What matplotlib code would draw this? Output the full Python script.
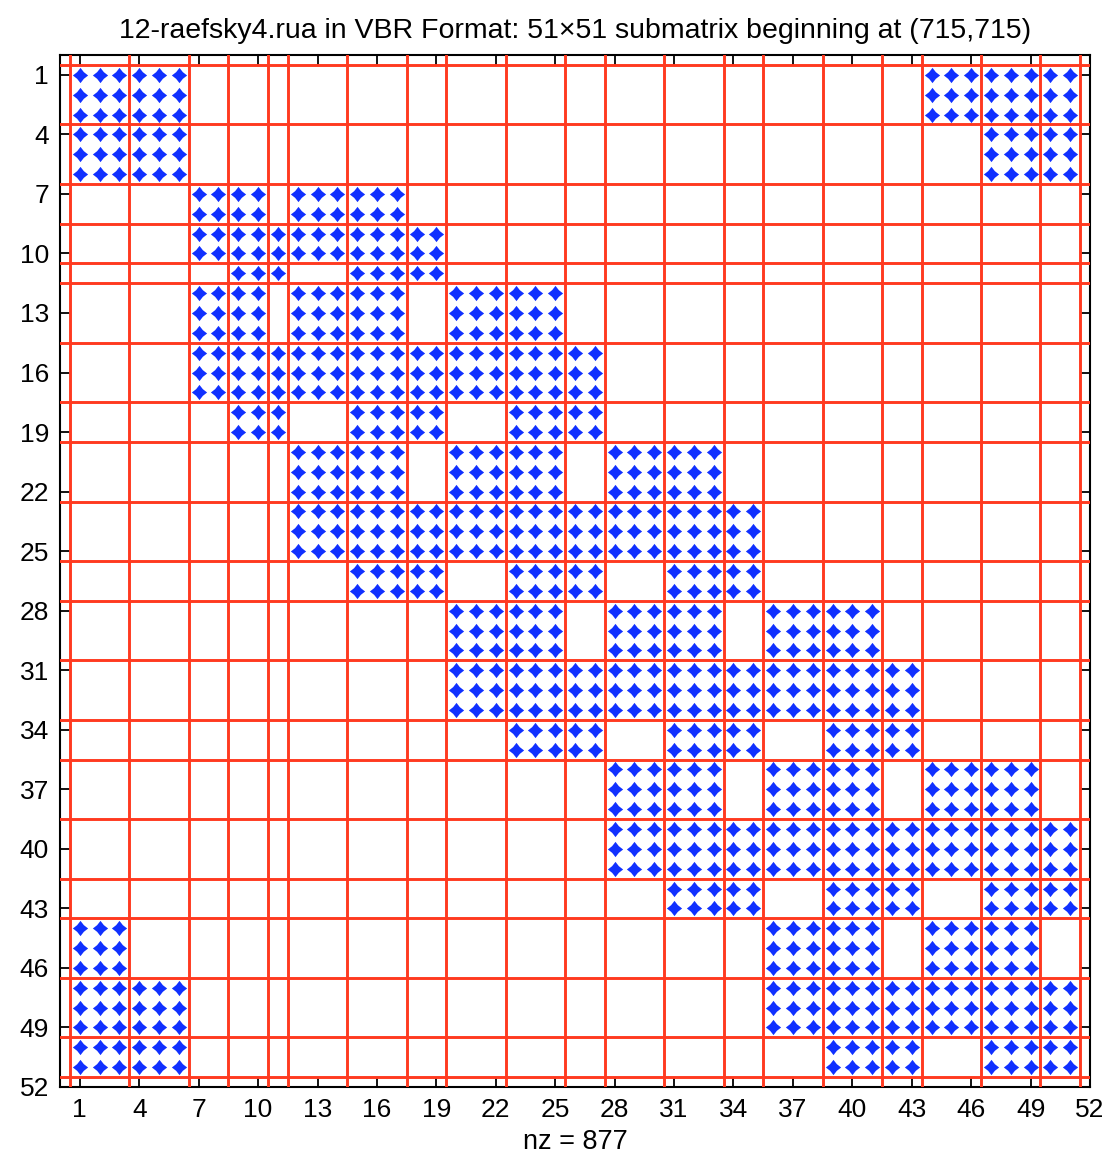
import numpy as np
import matplotlib
matplotlib.use('Agg')
import matplotlib.pyplot as plt

# VBR block partition of the 51x51 submatrix (rows and columns share it)
block_sizes = [3, 3, 2, 2, 1, 3, 3, 2, 3, 3, 2, 3, 3, 2, 3, 3, 2, 3, 3, 2]

# nonzero column blocks for each block row (1-based block numbers)
block_cols = [
    [1, 2, 18, 19, 20],
    [1, 2, 19, 20],
    [3, 4, 6, 7],
    [3, 4, 5, 6, 7, 8],
    [4, 5, 7, 8],
    [3, 4, 6, 7, 9, 10],
    [3, 4, 5, 6, 7, 8, 9, 10, 11],
    [4, 5, 7, 8, 10, 11],
    [6, 7, 9, 10, 12, 13],
    [6, 7, 8, 9, 10, 11, 12, 13, 14],
    [7, 8, 10, 11, 13, 14],
    [9, 10, 12, 13, 15, 16],
    [9, 10, 11, 12, 13, 14, 15, 16, 17],
    [10, 11, 13, 14, 16, 17],
    [12, 13, 15, 16, 18, 19],
    [12, 13, 14, 15, 16, 17, 18, 19, 20],
    [13, 14, 16, 17, 19, 20],
    [1, 15, 16, 18, 19],
    [1, 2, 15, 16, 17, 18, 19, 20],
    [1, 2, 16, 17, 19, 20],
]

matrix_name = '12-raefsky4.rua'
sub_start = (715, 715)

n = sum(block_sizes)
starts = np.concatenate([[1], 1 + np.cumsum(block_sizes)])

# expand the dense blocks into (row, col) entries
rows, cols = [], []
for rb, cblocks in enumerate(block_cols):
    for cb in cblocks:
        for i in range(starts[rb], starts[rb + 1]):
            for j in range(starts[cb - 1], starts[cb]):
                rows.append(i)
                cols.append(j)
nz = len(rows)

plt.rcParams['font.family'] = ['Liberation Sans', 'DejaVu Sans']

fig = plt.figure(figsize=(11.09, 11.60), dpi=100)
ax = fig.add_axes([60 / 1109, 1 - 1087 / 1160, 1030 / 1109, 1032 / 1160])

# four-pointed marker with slightly pinched sides
ang = np.arange(8) * np.pi / 4
rad = np.where(np.arange(8) % 2 == 0, 1.0, 0.62)
star = np.column_stack([rad * np.cos(ang), rad * np.sin(ang)])

ax.plot(cols, rows, linestyle='none', marker=star, markersize=11,
        color='#1030ff', markeredgewidth=0)

# block boundaries
edges = starts - 0.5
for e in edges:
    ax.axvline(e, color='#ff3a20', lw=2.1, zorder=3)
    ax.axhline(e, color='#ff3a20', lw=2.1, zorder=3)

ax.set_xlim(0, n + 1)
ax.set_ylim(n + 1, 0)
ticks = np.arange(1, n + 2, 3)
ax.set_xticks(ticks)
ax.set_yticks(ticks)
ax.tick_params(direction='in', top=True, right=True, length=7, width=1.3,
               labelsize=19, pad=8)
for s in ax.spines.values():
    s.set_linewidth(1.5)

ax.set_title('%s in VBR Format: %d\u00d7%d submatrix beginning at (%d,%d)'
             % (matrix_name, n, n, sub_start[0], sub_start[1]),
             fontsize=20.5, pad=12)
ax.set_xlabel('nz = %d' % nz, fontsize=19.5, labelpad=5)

fig.savefig('out.png', dpi=100)
